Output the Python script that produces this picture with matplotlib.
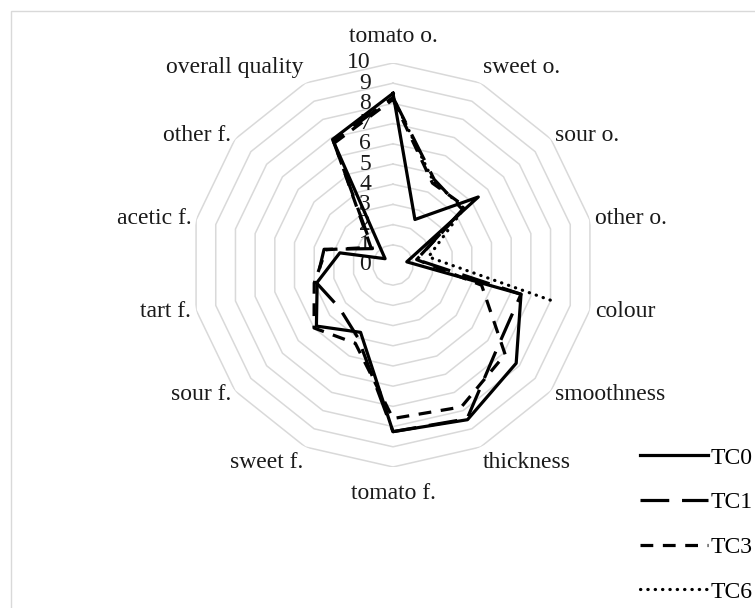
import numpy as np
import matplotlib
matplotlib.use('Agg')
import matplotlib.pyplot as plt
from matplotlib.patches import Rectangle
from matplotlib.transforms import offset_copy

# sensory attributes, clockwise from the top
categories = ['tomato o.', 'sweet o.', 'sour o.', 'other o.', 'colour', 'smoothness',
              'thickness', 'tomato f.', 'sweet f.', 'sour f.', 'tart f.', 'acetic f.',
              'other f.', 'overall quality']
nan = np.nan
tc0 = [8.5, 2.5, 5.4, 0.7, 6.5, 7.8, 8.5, 8.25, 3.7, 4.85, 3.85, 2.7, 0.5, 6.9]
tc1 = [8.3, 4.7, 4.4, 1.2, 6.5, 6.6, 8.45, 8.25, 4.0, 3.4, 3.9, 3.5, 1.3, 6.8]
tc3 = [8.2, 4.5, 4.6, 1.2, 4.5, 7.1, 7.8, 7.6, 4.3, 5.0, 4.0, 3.4, 1.4, 6.7]
tc6 = [8.3, 4.6, 4.5, 1.8, 8.3, nan, nan, nan, nan, nan, nan, nan, nan, nan]
series_names = ['TC0', 'TC1', 'TC3', 'TC6']
r_ticks = list(range(0, 11))

plt.rcParams['font.family'] = ['Liberation Serif', 'DejaVu Serif']
fs = 17

fig = plt.figure(figsize=(7.55, 6.08), dpi=100)
ax = fig.add_axes([191 / 755, 141 / 608, 404 / 755, 404 / 608], projection='polar')
ax.set_theta_offset(np.pi / 2)
ax.set_theta_direction(-1)
ax.set_ylim(0, 10)
ax.grid(False)
ax.spines['polar'].set_visible(False)
ax.set_xticks([])
ax.set_yticks([])
ax.patch.set_alpha(0)

n = len(categories)
angles = np.linspace(0, 2 * np.pi, n, endpoint=False)
closed = np.append(angles, angles[0])

# polygon grid rings
for r in r_ticks[1:]:
    ax.plot(closed, [r] * (n + 1), color='#d9d9d9', lw=1.1, zorder=1)

# radial labels along the top axis
off = offset_copy(ax.transData, fig=fig, x=-22, y=0, units='dots')
for r in r_ticks:
    ax.text(0, r, str(r), transform=off, ha='right', va='center',
            fontsize=fs, color='#1a1a1a', zorder=2, clip_on=False)

# category labels
for a, cat in zip(angles, categories):
    s, c = np.sin(a), np.cos(a)
    ha = 'left' if s > 0.2 else ('right' if s < -0.2 else 'center')
    if c > 0.7:
        va = 'bottom'
    elif c < -0.7:
        va = 'top'
    else:
        va = 'center'
    rl = 10.8 if abs(s) < 0.1 else 10.25
    ax.text(a, rl, cat, ha=ha, va=va, fontsize=fs, color='#1a1a1a', clip_on=False)

styles = ['-', (0, (9, 4)), (0, (4, 3)), (0, (0.1, 2.2))]
lines = []
for vals, name, ls in zip([tc0, tc1, tc3, tc6], series_names, styles):
    v = np.append(vals, vals[0])
    ln, = ax.plot(closed, v, color='black', lw=2.3, linestyle=ls, label=name, zorder=3)
    if name == 'TC6':
        ln.set_dash_capstyle('round')
    lines.append(ln)

fig.legend(lines, series_names, loc='upper left', bbox_to_anchor=(640 / 755, 1 - 447 / 608),
           frameon=False, fontsize=fs, handlelength=2.9, handletextpad=0.1,
           labelspacing=0.98, borderpad=0, borderaxespad=0)

fig.add_artist(Rectangle((10.6 / 755, -0.1), 1.2, 0.1 + 597 / 608, transform=fig.transFigure,
                         fill=False, ec='#d9d9d9', lw=1))

fig.savefig('out.png', dpi=100)
